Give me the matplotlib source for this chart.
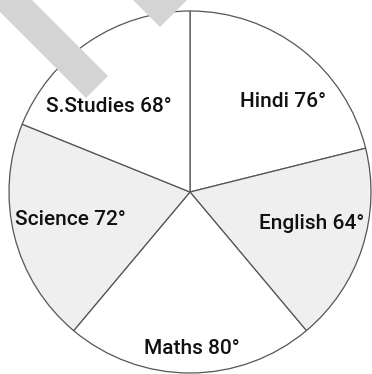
import matplotlib
matplotlib.use("Agg")
import matplotlib.pyplot as plt
from matplotlib.patches import Polygon

# data
subjects = ["Hindi", "English", "Maths", "Science", "S.Studies"]
degrees = [76, 64, 80, 72, 68]

# style / layout
fills = ["#ffffff", "#efefef", "#ffffff", "#efefef", "#ffffff"]
W, H = 372, 374
label_xy = [(283, 107), (312, 229), (192, 354), (70, 225), (109, 112)]  # baseline, y down

fig = plt.figure(figsize=(W / 100, H / 100), dpi=100)
ax = fig.add_axes([0, 0, 1, 1])

# faint watermark stripes
wm = [[(0, 0), (32, 0), (108, 76), (86, 98), (0, 12)],
      [(133, 0), (160, 27), (187, 0)]]
for poly in wm:
    ax.add_patch(Polygon([(x, H - y) for x, y in poly], closed=True,
                         facecolor="#d4d4d4", edgecolor="none", zorder=5))

wedges, _ = ax.pie(degrees, startangle=90, counterclock=False,
                   center=(190, H - 192), radius=181, colors=fills, frame=True,
                   wedgeprops=dict(edgecolor="#555555", linewidth=0.9))
ax.set_xlim(0, W)
ax.set_ylim(0, H)
ax.set_aspect("equal")
ax.axis("off")

for name, deg, (x, y) in zip(subjects, degrees, label_xy):
    ax.text(x, H - y, f"{name} {deg}°", ha="center", va="baseline",
            fontsize=15, family=["Roboto", "DejaVu Sans"], fontweight="medium",
            color="#111111", zorder=10)

fig.savefig("out.png", dpi=100)
